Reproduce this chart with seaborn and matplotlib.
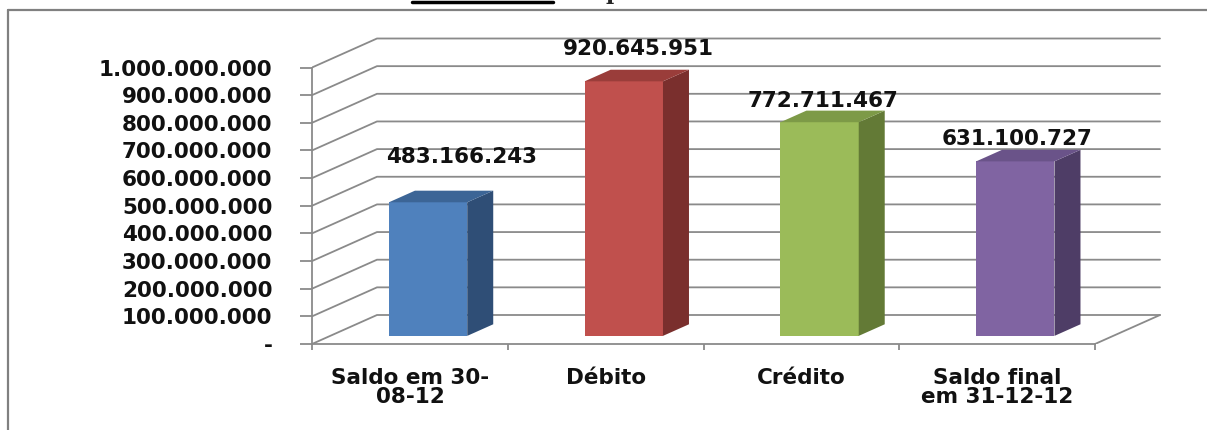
import numpy as np
import seaborn as sns
import matplotlib.pyplot as plt
from matplotlib.lines import Line2D

# data
categories = ["Saldo em 30-\n08-12", "Débito", "Crédito", "Saldo final\nem 31-12-12"]
values = [483166243, 920645951, 772711467, 631100727]
tick_values = [0, 100000000, 200000000, 300000000, 400000000, 500000000,
               600000000, 700000000, 800000000, 900000000, 1000000000]

front_colors = ["#4F81BD", "#C0504D", "#9BBB59", "#8064A2"]
side_colors = ["#2F4E76", "#7A2F2D", "#637A36", "#4E3D66"]
top_colors = ["#3C6596", "#9A3D3A", "#7D9A47", "#6A5389"]
# label nudges in pixels (right, up), as placed in the source chart
label_offsets = [(33, 45), (15, 32), (3, 21), (2, 22)]

def fmt(v):
    if v == 0:
        return "-"
    return f"{v:,.0f}".replace(",", ".")

sns.set_style("ticks")
plt.rcParams['font.family'] = ['DejaVu Sans']
plt.rcParams['font.weight'] = 'bold'

W, H = 1207, 430
fig = plt.figure(figsize=(W / 100, H / 100), dpi=100)
# front plane of the 3d box: x 312..1163 px, y 37..344 px
ax = fig.add_axes([312 / W, (H - 344) / H, (1163 - 312) / W, (344 - 37) / H])

cat_px = (1095 - 312) / 4
val_px = 276.5 / 1e9
DX = 65 / cat_px          # depth shift in category units
DY = 29 / val_px          # depth shift in value units
F0 = 0.28                 # bar front face depth
BD = 0.40                 # bar depth
grey = "#8a8a8a"

sns.barplot(x=categories, y=values, hue=categories, palette=front_colors,
            legend=False, saturation=1, width=0.40, linewidth=0, ax=ax)

bars = sorted(ax.patches, key=lambda p: p.get_x())
for i, p in enumerate(bars):
    p.set_x(p.get_x() + F0 * DX)
    p.set_y(F0 * DY)
    p.set_zorder(3)
    x0, x1 = p.get_x(), p.get_x() + p.get_width()
    b = F0 * DY
    t = b + values[i]
    ax.fill([x1, x1 + BD * DX, x1 + BD * DX, x1],
            [b, b + BD * DY, t + BD * DY, t], color=side_colors[i], lw=0, zorder=3)
    ax.fill([x0, x1, x1 + BD * DX, x0 + BD * DX],
            [t, t, t + BD * DY, t + BD * DY], color=top_colors[i], lw=0, zorder=3)
    ox, oy = label_offsets[i]
    ax.annotate(fmt(values[i]), xy=((x0 + x1) / 2, t), xytext=(ox * 0.72, oy * 0.72),
                textcoords="offset points", ha="center", va="center",
                fontsize=15.5, fontweight="bold", color="#111111", zorder=5)

# back wall grid and left wall diagonals
n = len(categories)
for v in tick_values:
    ax.plot([-0.5, -0.5 + DX, n - 0.5 + DX], [v, v + DY, v + DY],
            color=grey, lw=1.3, zorder=1, solid_joinstyle="miter")
# floor right edge
ax.plot([n - 0.5, n - 0.5 + DX], [0, DY], color=grey, lw=1.3, zorder=1)

ax.set_xlim(-0.5, -0.5 + (1163 - 312) / cat_px)
ax.set_ylim(0, (344 - 37) / val_px)

ax.set_yticks(tick_values)
ax.set_yticklabels([fmt(v) for v in tick_values])
ax.set_xticks(range(n))
ax.set_xticklabels(categories)
ax.set_xticks(np.arange(n + 1) - 0.5, minor=True)
for lbl in ax.get_xticklabels():
    lbl.set_linespacing(0.95)

ax.tick_params(axis="y", length=8.6, width=1.3, color=grey, pad=20,
               labelsize=15.5, labelcolor="#111111")
ax.tick_params(axis="x", which="major", length=0, pad=17,
               labelsize=15.5, labelcolor="#111111")
ax.tick_params(axis="x", which="minor", length=4.5, width=1.3, color=grey)
ax.set_xlabel("")
ax.set_ylabel("")

for s in ["top", "right"]:
    ax.spines[s].set_visible(False)
ax.spines["left"].set_bounds(0, tick_values[-1])
ax.spines["bottom"].set_bounds(-0.5, n - 0.5)
for s in ["left", "bottom"]:
    ax.spines[s].set_color(grey)
    ax.spines[s].set_linewidth(1.3)
ax.patch.set_alpha(0)

# outer frame of the chart area
fig.add_artist(Line2D([8 / W, 1], [1 - 10 / H, 1 - 10 / H], color="#808080", lw=1.6))
fig.add_artist(Line2D([8 / W, 8 / W], [0, 1 - 10 / H], color="#808080", lw=1.6))
# cut off title line above the chart
fig.add_artist(Line2D([412 / W, 553 / W], [1 - 1.5 / H, 1 - 1.5 / H], color="black", lw=2.5))
fig.text(605 / W, 1 + 1 / H, "p", family="DejaVu Serif", fontweight="bold",
         fontsize=16, ha="left", va="baseline")

fig.savefig("out.png", dpi=100)
